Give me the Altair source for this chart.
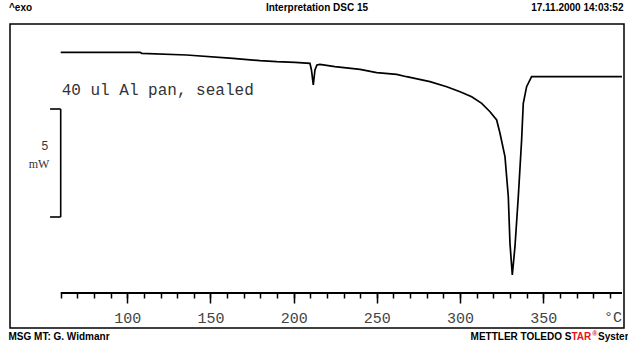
import altair as alt
import pandas as pd

# DSC trace: temperature (°C) and heat flow (mW, arbitrary offset)
temperature = [60, 107.7, 108.7, 135.7, 163.5, 179.8, 189.8, 200.8, 209.8, 210.7,
               211.8, 212.8, 214.0, 215.8, 224.8, 239.9, 249.9, 261.9, 267.9, 281.9,
               292, 300, 307, 313, 318, 322, 324, 327, 329, 330,
               331.4, 333, 335, 337, 338, 340, 343, 397.3]
heat_flow = [7.625, 7.625, 7.579, 7.5, 7.347, 7.236, 7.19, 7.162, 7.116, 6.806,
             6.111, 6.806, 7.037, 7.069, 6.958, 6.838, 6.681, 6.606, 6.495, 6.264,
             6.032, 5.801, 5.569, 5.264, 4.875, 4.491, 3.875, 2.792, 0.94, -1.218,
             -2.685, -1.375, 0.94, 3.565, 5.264, 6.032, 6.495, 6.495]

minor_ticks = list(range(60, 391, 10))
major_ticks = list(range(100, 351, 50))

x_domain = [29.53, 398.53]
y_domain = [-5.139, 8.935]
axis_level = -3.519
axis_span = [60, 397.3]

# 5 mW scale bar
bar_x = [60, 53.6, 53.6]
bar_x2 = [60, 60, 60]
bar_y = [0, 0, 5]
bar_y2 = [5, 0, 5]

MONO = "Liberation Mono"
SANS = "Liberation Sans"

trace = pd.DataFrame({"T": temperature, "mW": heat_flow})
xs = alt.Scale(domain=x_domain, nice=False, zero=False)
ys = alt.Scale(domain=y_domain, nice=False, zero=False)

curve = alt.Chart(trace).mark_line(color="black", strokeWidth=1.7).encode(
    x=alt.X("T:Q", scale=xs,
            axis=alt.Axis(orient="bottom", values=minor_ticks, tickSize=5, tickWidth=1.5,
                          tickColor="black", labels=False, domain=False, grid=False,
                          title=None, offset=-35)),
    y=alt.Y("mW:Q", scale=ys, axis=None),
)

axis_df = pd.DataFrame({"start": [axis_span[0]], "end": [axis_span[1]], "level": [axis_level]})
axis_line = alt.Chart(axis_df).mark_rule(color="black", strokeWidth=2).encode(
    x=alt.X("start:Q", scale=xs,
            axis=alt.Axis(orient="bottom", values=major_ticks, tickSize=10, tickWidth=1.5,
                          tickColor="black", labelFont=MONO, labelFontSize=15,
                          labelColor="#444", labelPadding=7, domain=False, grid=False,
                          title=None, offset=-35)),
    x2="end:Q",
    y=alt.Y("level:Q", scale=ys, axis=None),
)

bar_df = pd.DataFrame({"x": bar_x, "x2": bar_x2, "y": bar_y, "y2": bar_y2})
scale_bar = alt.Chart(bar_df).mark_rule(color="black", strokeWidth=1.6).encode(
    x=alt.X("x:Q", scale=xs, axis=None), x2="x2:Q",
    y=alt.Y("y:Q", scale=ys, axis=None), y2="y2:Q",
)


def note(text, t, v, font, size, align="left", color="#333"):
    df = pd.DataFrame({"T": [t], "mW": [v], "label": [text]})
    return alt.Chart(df).mark_text(font=font, fontSize=size, align=align,
                                   baseline="middle", color=color).encode(
        x=alt.X("T:Q", scale=xs, axis=None),
        y=alt.Y("mW:Q", scale=ys, axis=None),
        text="label:N")


notes = [
    note("40 ul Al pan, sealed", 60.6, 5.88, MONO, 16),
    note("5", 52.6, 3.29, MONO, 12, align="right"),
    note("mW", 53.2, 2.45, "Liberation Serif", 12, align="right"),
    note("°C", 397.3, -4.63, MONO, 15, align="right", color="#444"),
]


def chrome(text, px, py, align="left", color="black", size=10):
    return alt.Chart(pd.DataFrame({"label": [text]})).mark_text(
        font=SANS, fontSize=size, fontWeight="bold", align=align, baseline="middle",
        color=color).encode(x=alt.value(px), y=alt.value(py), text="label:N")


# header and footer lines around the frame
header_footer = [
    chrome("^exo", -1, -16.5),
    chrome("Interpretation DSC 15", 307, -16.5, align="center"),
    chrome("17.11.2000 14:03:52", 613.5, -16.5, align="right"),
    chrome("MSG MT: G. Widmanr", -1.5, 312.5),
    chrome("METTLER TOLEDO S", 561.5, 312.5, align="right"),
    chrome("TAR", 561.5, 312.5, color="#e8141c"),
    chrome("®", 582.2, 309.5, color="#e8141c", size=7),
    chrome("System", 588, 312.5),
]

chart = alt.layer(curve, axis_line, scale_bar, *notes, *header_footer).resolve_axis(
    x="independent"
).properties(
    width=614, height=304,
    autosize=alt.AutoSizeParams(type="none"),
    padding={"left": 10, "top": 24, "right": 4, "bottom": 14},
    background="white",
).configure_view(stroke="black", strokeWidth=1.5)

chart.save("out.html", embed_options={"renderer": "svg", "actions": False})
